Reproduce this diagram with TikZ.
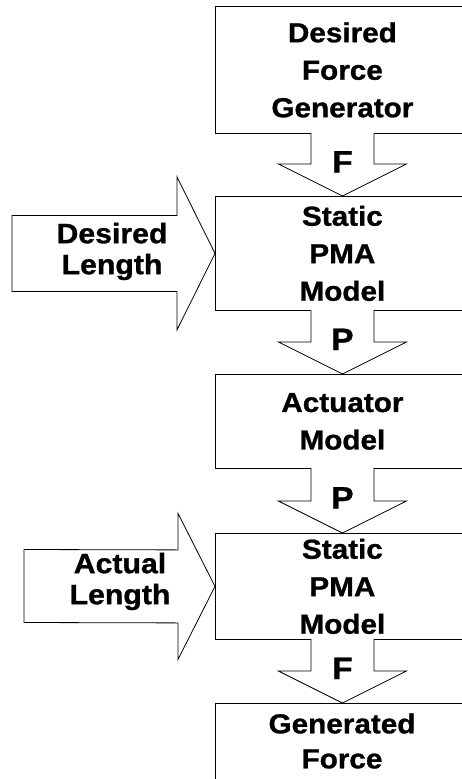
\documentclass[tikz,border=0pt]{standalone}
\usepackage{fontspec}
\setmainfont{Liberation Sans}[FakeStretch=1.08,FakeBold=1]
\usetikzlibrary{calc}
\newcommand\flowarrow[4]{%
  \filldraw[blockarrow] ($(#1.south)+(-31.5,-1)$) -- ($(#2.north)+(-31.5,-32)$)
    -- ($(#2.north)+(-64,-32)$) -- (#2.north) -- ($(#2.north)+(64,-32)$)
    -- ($(#2.north)+(31.5,-32)$) -- ($(#1.south)+(31.5,-1)$);
  \node[flowlabel] (#4) at ($(#1.south)!0.5!(#2.north)+(0,-3)$) {#3};}
\begin{document}
\begin{tikzpicture}[x=1pt,y=-1pt,
  blockbox/.style={draw, line width=0.8pt, fill=white, minimum width=254pt,
    anchor=north west, inner sep=0pt, align=center,
    font=\fontsize{27.5}{37.5}\selectfont\bfseries},
  sidetext/.style={align=center, inner sep=0pt,
    font=\fontsize{28}{31}\selectfont\bfseries},
  flowlabel/.style={inner sep=0pt, font=\fontsize{31}{31}\selectfont\bfseries},
  blockarrow/.style={draw, fill=white, line width=0.8pt, line join=miter}]
\useasboundingbox (0,0) rectangle (462,779);
\clip (0,0) rectangle (462,779);
% boxes
\node[blockbox, minimum height=127pt] (gen) at (215,6) {Desired\\Force\\Generator};
\node[blockbox, minimum height=114pt] (static1) at (215,196) {Static\\PMA\\Model};
\node[blockbox, minimum height=94pt] (act) at (215,374) {Actuator\\Model};
\node[blockbox, minimum height=106pt] (static2) at (215,533) {Static\\PMA\\Model};
\node[blockbox, minimum height=100pt] (genforce) at (215,703) {};
\node[align=center, inner sep=0pt, font=\fontsize{27.5}{35}\selectfont\bfseries]
  (genforcetext) at (342,741) {Generated\\Force};
% down arrows
\flowarrow{gen}{static1}{F}{lblF1}
\flowarrow{static1}{act}{P}{lblP1}
\flowarrow{act}{static2}{P}{lblP2}
\flowarrow{static2}{genforce}{F}{lblF2}
% side arrows
\coordinate (dltail) at (12,253.5);
\filldraw[blockarrow] ($(dltail)+(0,-38)$) -- ($(static1.west)+(-38,-38)$)
  -- ($(static1.west)+(-38,-76.5)$) -- (static1.west)
  -- ($(static1.west)+(-38,76.5)$) -- ($(static1.west)+(-38,38)$)
  -- ($(dltail)+(0,38)$) -- cycle;
\node[sidetext] (dltext) at (112,251.5) {Desired\\Length};
\coordinate (altail) at (24,586);
\filldraw[blockarrow] ($(altail)+(0,-36.5)$) -- ($(static2.west)+(-37,-36.5)$)
  -- ($(static2.west)+(-37,-73)$) -- (static2.west)
  -- ($(static2.west)+(-37,73)$) -- ($(static2.west)+(-37,36.5)$)
  -- ($(altail)+(0,36.5)$) -- cycle;
\node[sidetext] (altext) at (120,581.5) {Actual\\Length};
\end{tikzpicture}
\end{document}
